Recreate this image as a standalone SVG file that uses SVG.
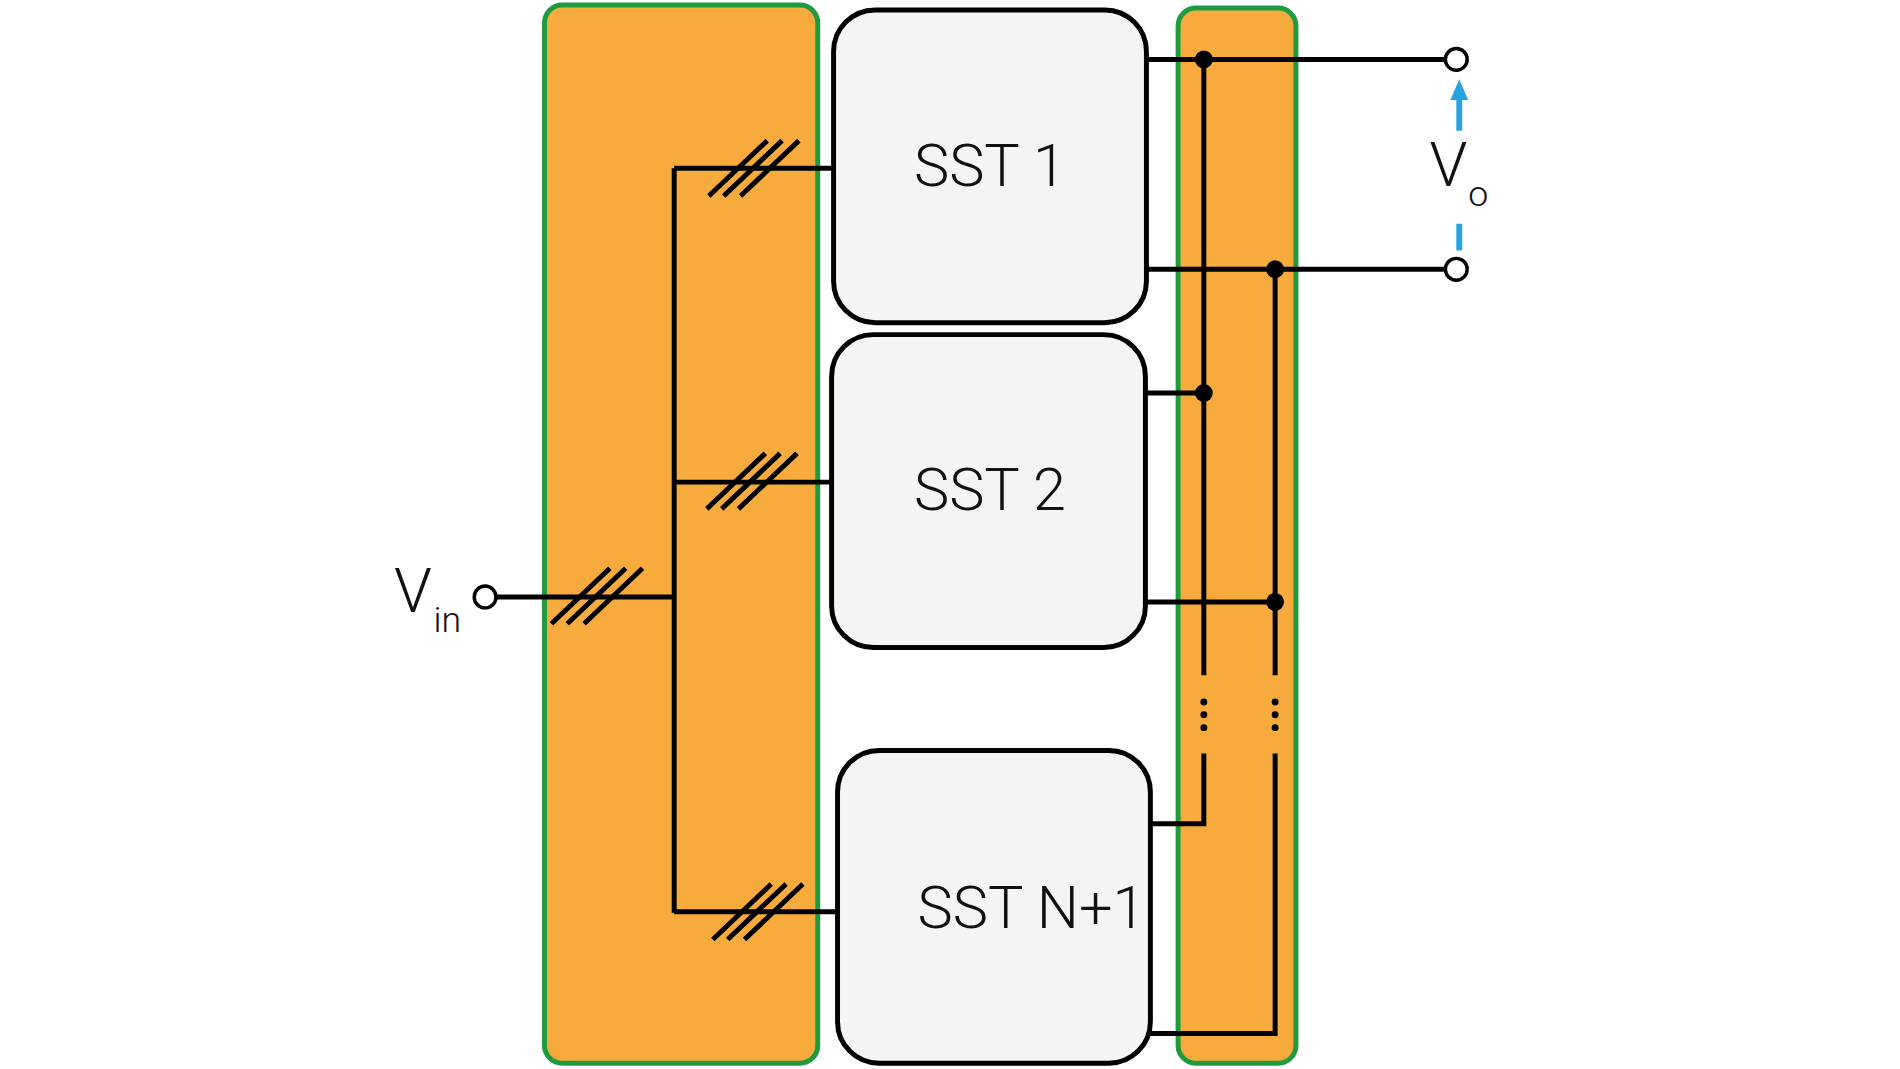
<svg xmlns="http://www.w3.org/2000/svg" width="1900" height="1069" viewBox="0 0 1900 1069">
<defs>
<style>
.zone{fill:#f7ab3c;stroke:#1f9a3f;stroke-width:5}
.sst{fill:#f5f4f2;stroke:#000;stroke-width:5}
.w{stroke:#000;stroke-width:5;fill:none}
.t{font-family:Roboto,"Liberation Sans",sans-serif;font-weight:300;fill:#111}
.term{fill:#fff;stroke:#000;stroke-width:3.5}
</style>
</defs>
<rect width="1900" height="1069" fill="#fff"/>
<g transform="scale(0.99)">
<g id="zone-left"><rect class="zone" x="550" y="5" width="276" height="1069" rx="18"/></g>
<g id="zone-right"><rect class="zone" x="1190" y="8" width="119" height="1066" rx="18"/></g>
<g id="sst1"><rect class="sst" x="842" y="10" width="316" height="316" rx="42"/><text class="t" x="1000" y="188" font-size="60" text-anchor="middle">SST 1</text></g>
<g id="sst2"><rect class="sst" x="840" y="338" width="317" height="316" rx="42"/><text class="t" x="1000" y="515" font-size="60" text-anchor="middle">SST 2</text></g>
<g id="sstn"><rect class="sst" x="846" y="758" width="316" height="316" rx="42"/><text class="t" x="1042" y="937" font-size="60" text-anchor="middle">SST N+1</text></g>
<g id="connectors">
<path class="w" d="M501,603 H681 M681,170 V922 M681,170 H842 M681,487 H840 M681,921 H846"/>
<path class="w" d="M557,630 L616,574 M573,630 L632,574 M590,630 L649,574"/>
<path class="w" d="M716,198 L775,142 M731,198 L790,142 M748,198 L807,142"/>
<path class="w" d="M714,514 L773,458 M729,514 L788,458 M746,514 L805,458"/>
<path class="w" d="M720,949 L779,893 M735,949 L794,893 M752,949 L811,893"/>
<path class="w" d="M1158,60 H1460 M1158,272 H1460 M1216,60 V682 M1216,761 V832 H1162 M1157,397 H1216 M1157,608 H1288 M1288,272 V682 M1288,761 V1044 H1162"/>
<g fill="#000"><circle cx="1216" cy="60" r="9"/><circle cx="1288" cy="272" r="9"/><circle cx="1216" cy="397" r="9"/><circle cx="1288" cy="608" r="9"/>
<circle cx="1216" cy="709" r="3.5"/><circle cx="1216" cy="722" r="3.5"/><circle cx="1216" cy="735" r="3.5"/>
<circle cx="1288" cy="709" r="3.5"/><circle cx="1288" cy="722" r="3.5"/><circle cx="1288" cy="735" r="3.5"/></g>
<circle class="term" cx="490" cy="603" r="11"/>
<circle class="term" cx="1471" cy="60" r="11"/>
<circle class="term" cx="1471" cy="272" r="11"/>
<line x1="1474" y1="132" x2="1474" y2="98" stroke="#29a3df" stroke-width="6"/>
<polygon points="1474,80 1465,101 1483,101" fill="#29a3df"/>
<line x1="1474" y1="226" x2="1474" y2="253" stroke="#29a3df" stroke-width="6"/>
</g>
<g id="labels">
<text class="t" x="398" y="618" font-size="62">V</text><text class="t" x="438" y="638" font-size="36">in</text>
<text class="t" x="1444" y="188" font-size="62">V</text><text class="t" x="1483" y="208" font-size="36">o</text>
</g>
</g>
</svg>
